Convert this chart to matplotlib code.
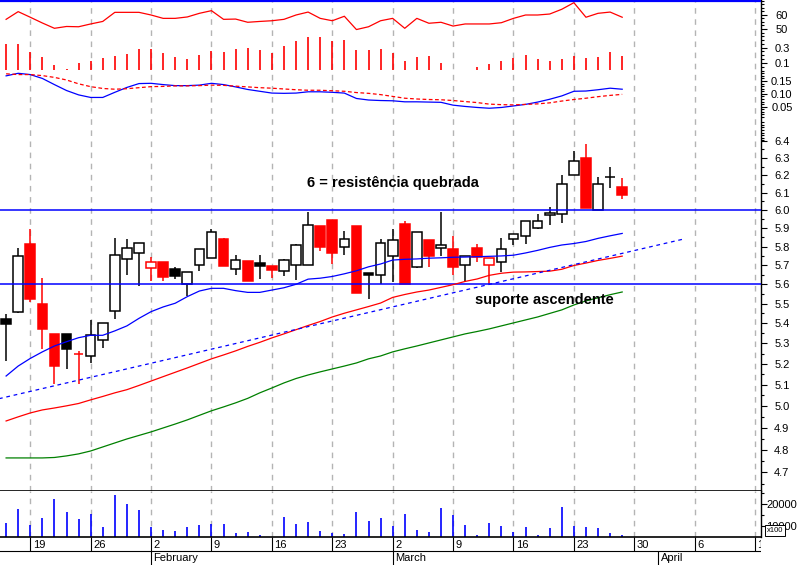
import matplotlib
matplotlib.use("Agg")
import matplotlib.pyplot as plt
import matplotlib.ticker as mticker
from matplotlib.patches import Rectangle
import pandas as pd

plt.rcParams["font.family"] = ["Liberation Sans", "DejaVu Sans"]

# trading days on the chart
dates = pd.bdate_range("2009-01-15", "2009-03-27")

opens = [5.420, 5.456, 5.816, 5.498, 5.347, 5.347, 5.247, 5.237, 5.315, 5.461,
         5.732, 5.764, 5.684, 5.718, 5.679, 5.600, 5.700, 5.737, 5.843, 5.678,
         5.723, 5.712, 5.696, 5.668, 5.700, 5.700, 5.913, 5.946, 5.797, 5.913,
         5.658, 5.651, 5.748, 5.922, 5.693, 5.835, 5.791, 5.786, 5.700, 5.791,
         5.700, 5.716, 5.840, 5.857, 5.903, 5.974, 5.978, 6.198, 6.297, 6.000,
         6.187, 6.132]
highs = [5.447, 5.791, 5.895, 5.633, 5.347, 5.347, 5.264, 5.417, 5.400, 5.846,
         5.840, 5.818, 5.745, 5.718, 5.691, 5.665, 5.786, 5.894, 5.849, 5.756,
         5.723, 5.756, 5.696, 5.733, 5.813, 5.990, 5.913, 5.946, 5.885, 5.913,
         5.658, 5.840, 5.895, 5.942, 5.881, 5.835, 5.990, 5.857, 5.748, 5.815,
         5.738, 5.846, 5.867, 5.938, 5.979, 6.017, 6.198, 6.342, 6.385, 6.187,
         6.245, 6.185]
lows = [5.215, 5.450, 5.510, 5.274, 5.104, 5.175, 5.104, 5.204, 5.278, 5.424,
        5.650, 5.593, 5.619, 5.619, 5.629, 5.541, 5.668, 5.737, 5.698, 5.650,
        5.619, 5.629, 5.631, 5.645, 5.621, 5.700, 5.779, 5.709, 5.757, 5.556,
        5.525, 5.603, 5.611, 5.600, 5.684, 5.689, 5.751, 5.647, 5.614, 5.716,
        5.600, 5.662, 5.808, 5.813, 5.898, 5.917, 5.928, 6.198, 6.015, 6.000,
        6.128, 6.064]
closes = [5.398, 5.748, 5.525, 5.373, 5.191, 5.274, 5.247, 5.340, 5.400, 5.754,
          5.791, 5.818, 5.718, 5.640, 5.645, 5.665, 5.786, 5.878, 5.698, 5.727,
          5.619, 5.698, 5.674, 5.727, 5.808, 5.917, 5.800, 5.768, 5.840, 5.556,
          5.651, 5.818, 5.835, 5.600, 5.881, 5.751, 5.808, 5.689, 5.748, 5.744,
          5.738, 5.786, 5.867, 5.938, 5.938, 5.987, 6.147, 6.285, 6.015, 6.147,
          6.187, 6.086]
# volume in hundreds
volume = [11500, 17700, 10450, 13640, 22270, 16360, 13180, 15450, 9550, 24090,
          20000, 17270, 9550, 8180, 7730, 9550, 10450, 10910, 10910, 6820,
          7270, 5910, 4500, 14090, 10910, 11820, 7730, 6820, 6360, 16360,
          12270, 13640, 10000, 15450, 8180, 7270, 18180, 15000, 10450, 5910,
          11360, 10000, 7270, 9550, 5910, 9090, 18640, 10000, 9550, 9090,
          6820, 5910]

ma_short = [5.141, 5.189, 5.226, 5.258, 5.287, 5.308, 5.328, 5.340, 5.340, 5.362,
            5.387, 5.425, 5.459, 5.483, 5.502, 5.536, 5.565, 5.579, 5.579, 5.567,
            5.558, 5.558, 5.570, 5.582, 5.600, 5.627, 5.632, 5.641, 5.655, 5.671,
            5.692, 5.707, 5.728, 5.732, 5.734, 5.738, 5.740, 5.743, 5.744, 5.746,
            5.748, 5.750, 5.754, 5.766, 5.780, 5.796, 5.809, 5.817, 5.828, 5.845,
            5.859, 5.872]
ma_mid = [4.930, 4.949, 4.967, 4.981, 4.990, 5.000, 5.011, 5.028, 5.044, 5.061,
          5.076, 5.096, 5.117, 5.138, 5.159, 5.180, 5.202, 5.224, 5.243, 5.263,
          5.285, 5.305, 5.327, 5.347, 5.368, 5.389, 5.409, 5.432, 5.451, 5.468,
          5.485, 5.503, 5.532, 5.547, 5.560, 5.570, 5.584, 5.598, 5.615, 5.628,
          5.647, 5.658, 5.664, 5.665, 5.667, 5.669, 5.679, 5.699, 5.712, 5.726,
          5.737, 5.749]
ma_long = [4.763, 4.763, 4.763, 4.763, 4.765, 4.772, 4.781, 4.794, 4.812, 4.830,
           4.848, 4.864, 4.880, 4.898, 4.916, 4.935, 4.956, 4.977, 4.995, 5.014,
           5.035, 5.061, 5.084, 5.108, 5.129, 5.146, 5.161, 5.175, 5.189, 5.204,
           5.224, 5.238, 5.258, 5.273, 5.287, 5.302, 5.317, 5.332, 5.347, 5.359,
           5.372, 5.387, 5.402, 5.417, 5.432, 5.450, 5.468, 5.493, 5.514, 5.530,
           5.546, 5.560]

rsi = [56.9, 62.4, 58.4, 54.3, 50.5, 51.8, 51.6, 53.6, 55.4, 61.9,
       61.9, 61.9, 60.0, 57.6, 57.6, 58.6, 61.2, 63.1, 56.9, 57.1,
       54.8, 55.4, 55.9, 56.9, 60.0, 62.1, 57.6, 55.9, 59.1, 49.6,
       51.6, 55.9, 57.6, 50.5, 57.6, 54.1, 54.8, 52.1, 53.6, 53.6,
       53.6, 54.5, 57.6, 60.0, 60.0, 60.7, 64.1, 68.8, 58.4, 61.2,
       62.1, 58.4]
osc = [0.350, 0.350, 0.240, 0.174, 0.066, 0.026, 0.096, 0.118, 0.161, 0.187,
       0.213, 0.279, 0.279, 0.227, 0.174, 0.148, 0.200, 0.253, 0.240, 0.279,
       0.292, 0.266, 0.227, 0.318, 0.384, 0.436, 0.436, 0.384, 0.397, 0.266,
       0.266, 0.279, 0.232, 0.118, 0.174, 0.187, 0.096, 0.000, 0.000, 0.043,
       0.083, 0.122, 0.161, 0.200, 0.148, 0.122, 0.148, 0.187, 0.161, 0.174,
       0.240, 0.187]
macd = [0.170, 0.180, 0.175, 0.160, 0.136, 0.113, 0.096, 0.086, 0.086, 0.106,
        0.125, 0.140, 0.141, 0.136, 0.132, 0.132, 0.134, 0.141, 0.136, 0.127,
        0.117, 0.110, 0.103, 0.102, 0.103, 0.108, 0.108, 0.106, 0.103, 0.082,
        0.076, 0.074, 0.073, 0.069, 0.069, 0.068, 0.067, 0.056, 0.051, 0.047,
        0.044, 0.047, 0.053, 0.059, 0.068, 0.079, 0.092, 0.110, 0.111, 0.116,
        0.122, 0.118]
macd_signal = [0.178, 0.175, 0.175, 0.171, 0.164, 0.154, 0.139, 0.128, 0.121, 0.118,
               0.120, 0.124, 0.128, 0.129, 0.131, 0.131, 0.132, 0.134, 0.133, 0.130,
               0.127, 0.124, 0.122, 0.119, 0.116, 0.114, 0.114, 0.112, 0.110, 0.105,
               0.102, 0.097, 0.090, 0.083, 0.080, 0.078, 0.077, 0.074, 0.070, 0.066,
               0.060, 0.058, 0.057, 0.059, 0.061, 0.065, 0.072, 0.078, 0.083, 0.089,
               0.094, 0.098]

resistance = 6.0
support = 5.6
trend_dates = ["2009-01-14", "2009-04-03"]
trend_prices = [5.028, 5.84]
rsi_top = 70

price_ticks = [4.7, 4.8, 4.9, 5.0, 5.1, 5.2, 5.3, 5.4, 5.5, 5.6, 5.7, 5.8, 5.9,
               6.0, 6.1, 6.2, 6.3, 6.4]

W, H = 806, 565
RED = "#ff0000"
BLUE = "#0000ff"
GREEN = "#008000"
GRID = "#b4b4b4"


def px_rect(x0, y0, x1, y1):
    return [x0 / W, 1 - y1 / H, (x1 - x0) / W, (y1 - y0) / H]


def right_ticks(a, major, labels, minor=()):
    a.yaxis.tick_right()
    a.yaxis.set_major_locator(mticker.FixedLocator(major))
    a.yaxis.set_major_formatter(mticker.FixedFormatter(labels))
    a.yaxis.set_minor_locator(mticker.FixedLocator(list(minor)))
    a.yaxis.set_minor_formatter(mticker.NullFormatter())
    a.tick_params(axis="y", which="major", length=4.5, width=0.8, pad=10.5,
                  labelsize=8)
    a.tick_params(axis="y", which="minor", length=2.5, width=0.8)
    plt.setp(a.get_yticklabels(), ha="center")


def overlay(fig, ax, lo, hi):
    a = fig.add_axes(ax.get_position(), sharex=ax)
    a.set_ylim(lo, hi)
    a.patch.set_visible(False)
    for s in a.spines.values():
        s.set_visible(False)
    a.tick_params(axis="x", which="both", bottom=False, labelbottom=False)
    return a


cal = pd.bdate_range("2009-01-14", "2009-04-17")
x = cal.get_indexer(dates)
mondays = cal[cal.weekday == 0]
monday_x = cal.get_indexer(mondays)
month_starts = [d for i, d in enumerate(cal) if i > 0 and d.month != cal[i - 1].month]

fig = plt.figure(figsize=(W / 100, H / 100), dpi=100)
ax = fig.add_axes(px_rect(0, 0, 761, 491.3))
axv = fig.add_axes(px_rect(0, 491.3, 761, 537.3), sharex=ax)
axd = fig.add_axes(px_rect(0, 537.3, 761, 565), sharex=ax)

ax.set_xlim(0.495, 63.49)
ax.set_yscale("log")
ax.set_ylim(4.6171, 7.2997)
right_ticks(ax, price_ticks, ["%.1f" % p for p in price_ticks],
            [p + 0.05 for p in price_ticks[:-1]] + [6.45, 4.65])

for a in (ax, axv):
    a.set_xticks(monday_x)
    a.grid(axis="x", color=GRID, linestyle=(0, (4, 4)), linewidth=1)
    a.tick_params(axis="x", which="both", length=0, labelbottom=False)
    a.spines["left"].set_visible(False)
    a.spines["top"].set_visible(False)
    a.spines["right"].set_linewidth(1)
    a.spines["bottom"].set_linewidth(1.2)

# candles
for i in range(len(dates)):
    o, h, l, c = opens[i], highs[i], lows[i], closes[i]
    col = RED if i > 0 and c < closes[i - 1] else "black"
    ax.vlines(x[i], l, h, color=col, linewidth=1.1, zorder=3)
    if o == c:
        ax.hlines(c, x[i] - 0.4, x[i] + 0.4, color=col, linewidth=1.1, zorder=3)
    else:
        face = col if c < o else "white"
        ax.add_patch(Rectangle((x[i] - 0.4, min(o, c)), 0.8, abs(c - o),
                               facecolor=face, edgecolor=col, linewidth=1.1, zorder=4))

ax.axhline(resistance, color=BLUE, linewidth=1.1, zorder=5)
ax.axhline(support, color=BLUE, linewidth=1.1, zorder=5)
ax.plot(x, ma_short, color=BLUE, linewidth=0.9, zorder=5)
ax.plot(x, ma_mid, color=RED, linewidth=0.9, zorder=5)
ax.plot(x, ma_long, color=GREEN, linewidth=0.9, zorder=5)
ax.plot(cal.get_indexer(pd.to_datetime(trend_dates)), trend_prices, color=BLUE,
        linewidth=0.9, linestyle=(0, (3, 3)), zorder=5)

ax.text(25.9, 6.155, "6 = resistência quebrada", fontsize=10.5, fontweight="bold",
        ha="left", va="center", zorder=6)
ax.text(39.8, 5.519, "suporte ascendente", fontsize=10.5, fontweight="bold",
        ha="left", va="center", zorder=6)

# indicator strips in the top of the price panel
ax_rsi = overlay(fig, ax, -280.21, 70.714)
ax_rsi.plot(x, rsi, color=RED, linewidth=0.9)
ax_rsi.axhline(rsi_top, color=BLUE, linewidth=1.6)
right_ticks(ax_rsi, [50, 60], ["50", "60"], [45, 47.5, 52.5, 55, 57.5, 62.5, 65, 67.5, 70])

ax_osc = overlay(fig, ax, -5.4998, 0.9214)
ax_osc.vlines(x, 0, osc, color=RED, linewidth=1.2)
right_ticks(ax_osc, [0.1, 0.3], ["0.1", "0.3"], [0.05, 0.15, 0.2, 0.25, 0.35, 0.4])

ax_macd = overlay(fig, ax, -1.4465, 0.46518)
ax_macd.plot(x, macd, color=BLUE, linewidth=0.9)
ax_macd.plot(x, macd_signal, color=RED, linewidth=0.9, linestyle=(0, (3, 2)))
right_ticks(ax_macd, [0.05, 0.10, 0.15], ["0.05", "0.10", "0.15"],
            [v / 100 for v in range(-8, 21) if v % 5])

# volume
axv.set_ylim(4864, 25773)
axv.vlines(x, 0, volume, color=BLUE, linewidth=1.2)
right_ticks(axv, [10000, 20000], ["10000", "20000"], [15000, 25000])

# date strip
axd.set_ylim(0, 1)
axd.axis("off")
axd.axhline(0.5, color="black", linewidth=0.8)
for mx, d in zip(monday_x, mondays):
    axd.vlines(mx, 0.5, 1, color="black", linewidth=0.8)
    axd.text(mx + 0.2, 0.74, str(d.day), fontsize=8, ha="left", va="center",
             clip_on=True)
for d in month_starts:
    mx = cal.get_loc(d)
    axd.vlines(mx, 0, 0.5, color="black", linewidth=0.8)
    axd.text(mx + 0.2, 0.24, d.strftime("%B"), fontsize=8, ha="left", va="center",
             clip_on=True)

fig.text(775 / W, 1 - 530.5 / H, "x100", fontsize=5.5, ha="center", va="center",
         bbox=dict(boxstyle="square,pad=0.2", facecolor="white", edgecolor="black",
                   linewidth=0.7))

fig.savefig("out.png", dpi=100)
